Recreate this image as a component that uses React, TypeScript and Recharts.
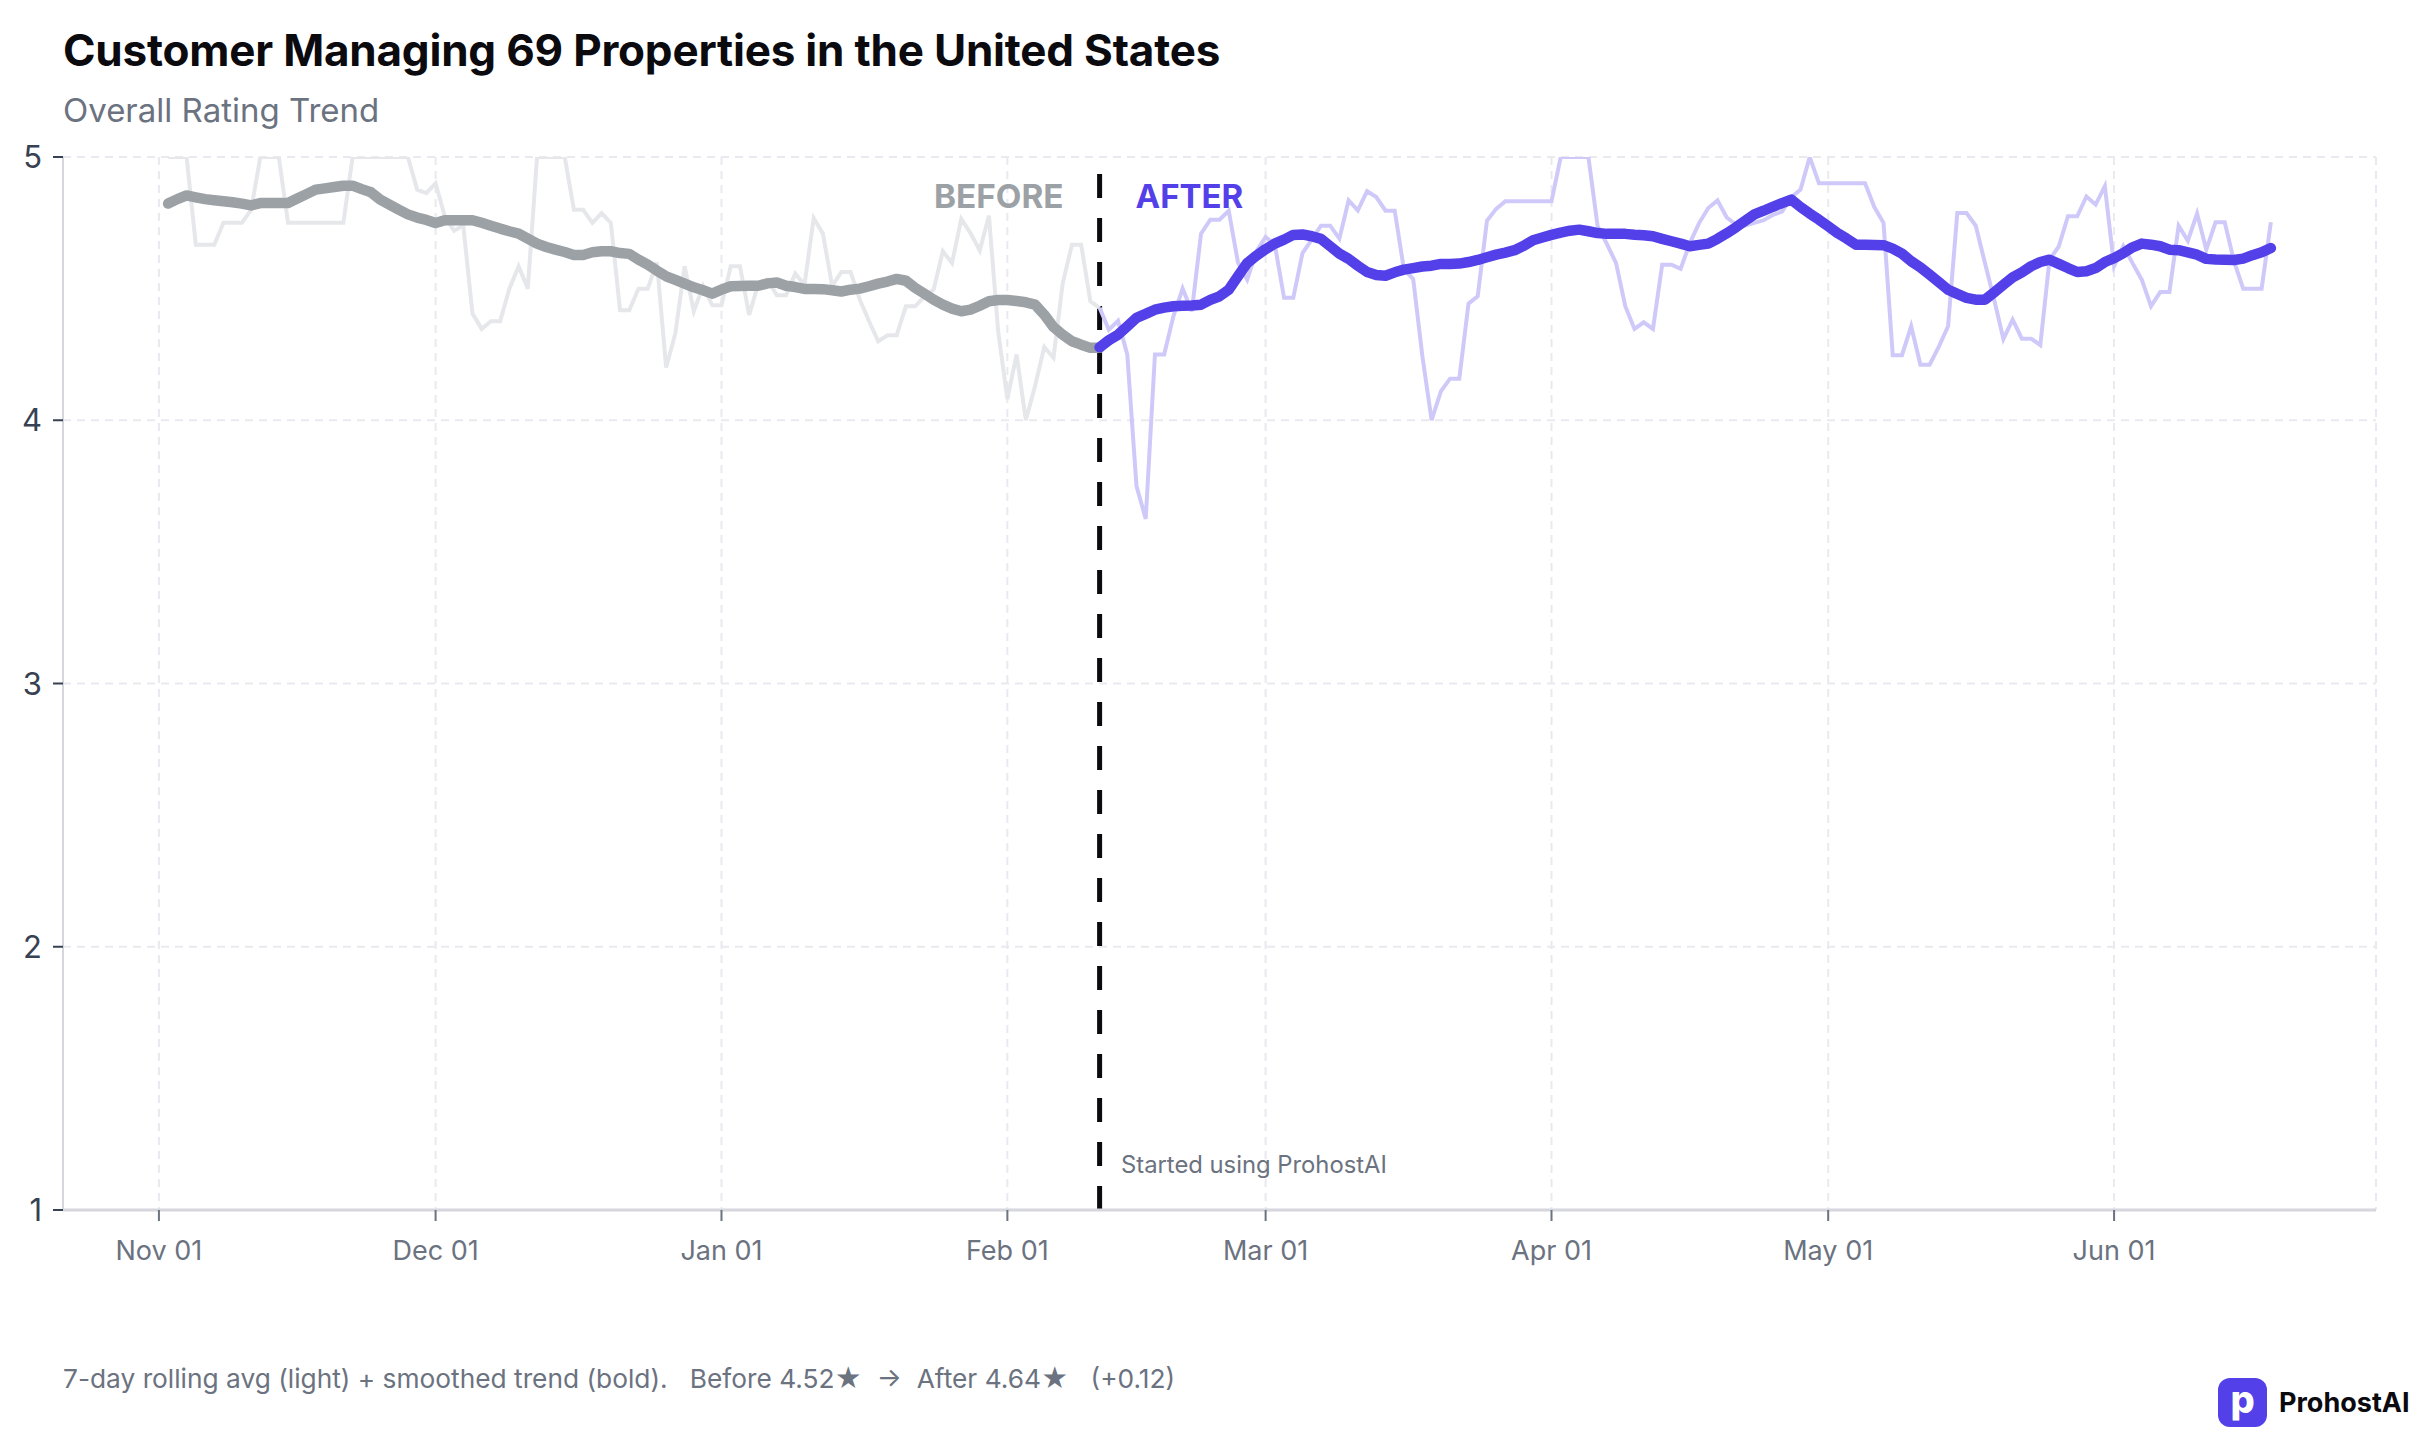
import { CartesianGrid, Line, LineChart, ReferenceLine, XAxis, YAxis } from 'recharts';

const PURPLE = '#5340E8';
const FONT = 'Inter, sans-serif';

// day numbers count from Nov 01
const monthTicks = [0, 30, 61, 92, 120, 151, 181, 212];
const monthLabels = ['Nov 01', 'Dec 01', 'Jan 01', 'Feb 01', 'Mar 01', 'Apr 01', 'May 01', 'Jun 01'];
const ratingTicks = [1, 2, 3, 4, 5];

const beforeStartDay = 1;
const afterStartDay = 102;
const switchDay = 102;

const beforeRaw = [
  5, 5, 5, 4.667, 4.667, 4.667, 4.75, 4.75, 4.75, 4.8,
  5, 5, 5, 4.75, 4.75, 4.75, 4.75, 4.75, 4.75, 4.75,
  5, 5, 5, 5, 5, 5, 5, 4.876, 4.863, 4.9,
  4.775, 4.72, 4.74, 4.405, 4.347, 4.376, 4.376, 4.5, 4.585, 4.5,
  5, 5, 5, 5, 4.8, 4.8, 4.75, 4.787, 4.75, 4.418,
  4.418, 4.5, 4.5, 4.6, 4.2, 4.33, 4.585, 4.414, 4.51, 4.437,
  4.437, 4.585, 4.585, 4.4, 4.52, 4.534, 4.475, 4.475, 4.557, 4.515,
  4.768, 4.709, 4.51, 4.563, 4.563, 4.458, 4.376, 4.3, 4.323, 4.323,
  4.433, 4.433, 4.47, 4.496, 4.642, 4.597, 4.765, 4.711, 4.645, 4.777,
  4.338, 4.08, 4.25, 4.0, 4.13, 4.278, 4.237, 4.52, 4.667, 4.667,
  4.452, 4.427,
];

const beforeTrend = [
  4.823, 4.84, 4.854, 4.847, 4.84, 4.836, 4.832, 4.828, 4.823, 4.816,
  4.825, 4.825, 4.825, 4.825, 4.842, 4.859, 4.876, 4.881, 4.886, 4.891,
  4.891, 4.878, 4.866, 4.838, 4.819, 4.8, 4.782, 4.77, 4.761, 4.749,
  4.76, 4.76, 4.76, 4.76, 4.75, 4.739, 4.728, 4.718, 4.709, 4.69,
  4.671, 4.658, 4.648, 4.639, 4.628, 4.628, 4.638, 4.642, 4.642, 4.635,
  4.632, 4.61, 4.591, 4.568, 4.547, 4.533, 4.519, 4.505, 4.494, 4.481,
  4.496, 4.509, 4.51, 4.511, 4.511, 4.52, 4.523, 4.511, 4.506, 4.499,
  4.499, 4.498, 4.494, 4.489, 4.496, 4.5, 4.509, 4.519, 4.527, 4.537,
  4.53, 4.503, 4.481, 4.458, 4.439, 4.424, 4.414, 4.42, 4.435, 4.452,
  4.457, 4.457, 4.453, 4.448, 4.439, 4.401, 4.354, 4.325, 4.3, 4.287,
  4.275, 4.275,
];

const afterRaw = [
  4.427, 4.344, 4.378, 4.25, 3.75, 3.625, 4.25, 4.25, 4.395,
  4.5, 4.414, 4.709, 4.762, 4.762, 4.796, 4.6, 4.534, 4.642, 4.696,
  4.667, 4.465, 4.465, 4.635, 4.686, 4.739, 4.739, 4.69, 4.835, 4.797,
  4.87, 4.848, 4.796, 4.796, 4.572, 4.537, 4.243, 4.0, 4.11, 4.158,
  4.158, 4.443, 4.471, 4.758, 4.803, 4.832, 4.832, 4.832, 4.832, 4.832,
  4.832, 5, 5, 5, 5, 4.737, 4.67, 4.597, 4.433, 4.347,
  4.372, 4.347, 4.591, 4.591, 4.575, 4.673, 4.749, 4.806, 4.835, 4.77,
  4.743, 4.74, 4.75, 4.76, 4.78, 4.793, 4.847, 4.876, 5, 4.9,
  4.9, 4.9, 4.9, 4.9, 4.9, 4.81, 4.75, 4.247, 4.247, 4.357,
  4.211, 4.211, 4.28, 4.357, 4.787, 4.787, 4.739, 4.597, 4.458, 4.309,
  4.382, 4.31, 4.31, 4.285, 4.61, 4.66, 4.775, 4.775, 4.85, 4.819,
  4.889, 4.585, 4.661, 4.597, 4.534, 4.433, 4.487, 4.487, 4.739, 4.682,
  4.785, 4.648, 4.752, 4.752, 4.604, 4.5, 4.5, 4.5, 4.752,
];

const afterTrend = [
  4.277, 4.304, 4.325, 4.357, 4.389, 4.404, 4.42, 4.428, 4.433,
  4.435, 4.436, 4.439, 4.457, 4.471, 4.496, 4.547, 4.597, 4.625, 4.65,
  4.671, 4.686, 4.704, 4.706, 4.699, 4.689, 4.661, 4.633, 4.613, 4.587,
  4.563, 4.552, 4.549, 4.562, 4.572, 4.578, 4.584, 4.587, 4.594, 4.594,
  4.595, 4.601, 4.609, 4.619, 4.629, 4.637, 4.646, 4.663, 4.684, 4.694,
  4.704, 4.713, 4.72, 4.724, 4.718, 4.711, 4.708, 4.708, 4.708, 4.705,
  4.703, 4.699, 4.689, 4.68, 4.671, 4.661, 4.666, 4.671, 4.689, 4.71,
  4.733, 4.758, 4.782, 4.796, 4.811, 4.825, 4.838, 4.81, 4.785, 4.762,
  4.737, 4.711, 4.69, 4.667, 4.667, 4.666, 4.665, 4.652, 4.633, 4.604,
  4.581, 4.553, 4.525, 4.496, 4.48, 4.465, 4.458, 4.458, 4.486, 4.515,
  4.543, 4.562, 4.585, 4.601, 4.61, 4.594, 4.578, 4.563, 4.566, 4.578,
  4.601, 4.616, 4.635, 4.657, 4.671, 4.667, 4.661, 4.648, 4.646, 4.638,
  4.629, 4.613, 4.611, 4.61, 4.609, 4.614, 4.627, 4.638, 4.654,
];

const lastDay = afterStartDay + afterRaw.length - 1;
const data: any[] = [];
for (let day = beforeStartDay; day <= lastDay; day++) {
  const b = day - beforeStartDay;
  const a = day - afterStartDay;
  data.push({
    day,
    beforeRaw: beforeRaw[b],
    beforeTrend: beforeTrend[b],
    afterRaw: a >= 0 ? afterRaw[a] : undefined,
    afterTrend: a >= 0 ? afterTrend[a] : undefined,
  });
}

const tickLabel = (val: number) => monthLabels[monthTicks.indexOf(val)];

function Overlay({ left, top, style, children }: any) {
  return (
    <div style={{ position: 'absolute', left, top, whiteSpace: 'pre', lineHeight: 1, fontFamily: FONT, ...style }}>
      {children}
    </div>
  );
}

export default function App() {
  return (
    <div style={{ position: 'absolute', left: 0, top: 0, width: 2418, height: 1445, background: '#fff', overflow: 'hidden' }}>
      <LineChart
        width={2418}
        height={1445}
        data={data}
        margin={{ top: 157, right: 42, left: 0, bottom: 175 }}
      >
        <CartesianGrid stroke="#E9E9EF" strokeWidth={2} strokeDasharray="8 6" />
        <XAxis
          dataKey="day"
          type="number"
          domain={[-10.4, 240.4]}
          ticks={monthTicks}
          tickFormatter={tickLabel}
          interval={0}
          height={60}
          tickSize={11}
          tickMargin={20}
          axisLine={{ stroke: '#D5D6DE', strokeWidth: 3 }}
          tickLine={{ stroke: '#6B7280', strokeWidth: 2 }}
          tick={{ fill: '#6B7280', fontSize: 27, fontFamily: FONT }}
        />
        <YAxis
          type="number"
          domain={[1, 5]}
          ticks={ratingTicks}
          allowDataOverflow
          width={63}
          tickSize={10}
          tickMargin={11}
          axisLine={{ stroke: '#D5D6DE', strokeWidth: 2 }}
          tickLine={{ stroke: '#374151', strokeWidth: 2 }}
          tick={{ fill: '#374151', fontSize: 31, fontFamily: FONT }}
        />
        <ReferenceLine
          segment={[{ x: switchDay, y: 1 }, { x: switchDay, y: 4.935 }]}
          stroke="#0A0A0F"
          strokeWidth={5}
          strokeDasharray="24 20"
        />
        <Line dataKey="beforeRaw" stroke="#E5E7EB" strokeWidth={4} dot={false} isAnimationActive={false} />
        <Line dataKey="afterRaw" stroke="#CFC9FA" strokeWidth={4} dot={false} isAnimationActive={false} />
        <Line dataKey="beforeTrend" stroke="#9CA1A6" strokeWidth={10.5} strokeLinecap="round" strokeLinejoin="round" dot={false} isAnimationActive={false} />
        <Line dataKey="afterTrend" stroke={PURPLE} strokeWidth={10.5} strokeLinecap="round" strokeLinejoin="round" dot={false} isAnimationActive={false} />
      </LineChart>

      <Overlay left={63} top={28} style={{ fontSize: 44, fontWeight: 700, color: '#0A0A0F', letterSpacing: -0.2 }}>
        Customer Managing 69 Properties in the United States
      </Overlay>
      <Overlay left={63} top={94} style={{ fontSize: 33, color: '#6B7280' }}>Overall Rating Trend</Overlay>
      <Overlay left={934} top={180} style={{ fontSize: 33.3, fontWeight: 700, color: '#9CA1A6' }}>BEFORE</Overlay>
      <Overlay left={1135.5} top={180} style={{ fontSize: 33, fontWeight: 700, color: PURPLE }}>AFTER</Overlay>
      <Overlay left={1121} top={1153} style={{ fontSize: 23.8, color: '#6B7280' }}>Started using ProhostAI</Overlay>
      <Overlay left={63} top={1366} style={{ fontSize: 26.3, color: '#6B7280' }}>
        {'7-day rolling avg (light) + smoothed trend (bold).   Before 4.52★  →  After 4.64★   (+0.12)'}
      </Overlay>

      <div style={{ position: 'absolute', left: 2218, top: 1378, width: 49, height: 49, borderRadius: 12, background: PURPLE, color: '#fff', fontFamily: FONT, fontWeight: 800, fontSize: 38, lineHeight: '42px', textAlign: 'center' }}>
        p
      </div>
      <Overlay left={2279} top={1389} style={{ fontSize: 27, fontWeight: 700, color: '#0A0A0F' }}>ProhostAI</Overlay>
    </div>
  );
}
